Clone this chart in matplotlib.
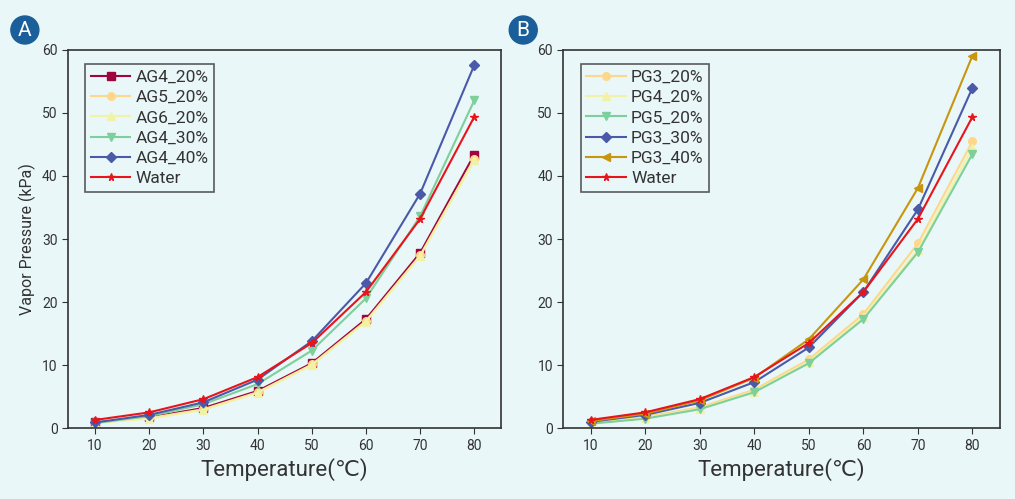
import matplotlib.pyplot as plt
from matplotlib.patches import Circle

temps = [10, 20, 30, 40, 50, 60, 70, 80]

ag4_20 = [0.9, 1.7, 3.2, 5.9, 10.3, 17.3, 27.8, 43.4]
ag5_20 = [0.9, 1.6, 3.0, 5.7, 10.1, 17.0, 27.4, 42.7]
ag6_20 = [0.8, 1.5, 2.9, 5.6, 10.0, 16.9, 27.3, 42.5]
ag4_30 = [0.8, 1.9, 3.8, 7.0, 12.3, 20.6, 33.6, 52.0]
ag4_40 = [0.9, 2.1, 4.1, 7.7, 13.8, 23.0, 37.2, 57.6]
water = [1.3, 2.5, 4.6, 8.1, 13.5, 21.6, 33.2, 49.4]

pg3_20 = [0.9, 1.8, 3.3, 6.1, 10.9, 18.1, 29.3, 45.5]
pg4_20 = [0.8, 1.6, 3.1, 5.8, 10.5, 17.6, 28.3, 44.5]
pg5_20 = [0.7, 1.5, 3.0, 5.7, 10.3, 17.3, 27.9, 43.5]
pg3_30 = [1.0, 2.1, 4.0, 7.3, 12.8, 21.6, 34.7, 54.0]
pg3_40 = [1.1, 2.3, 4.4, 8.0, 14.1, 23.6, 38.1, 59.1]

bg = '#eaf7f8'
plt.rcParams['font.family'] = ['Roboto', 'DejaVu Sans']

fig = plt.figure(figsize=(10.15, 4.99), dpi=100, facecolor=bg)
ax1 = fig.add_axes([0.067, 0.142, 0.427, 0.758])
ax2 = fig.add_axes([0.555, 0.142, 0.430, 0.758])

left_series = [
    ('AG4_20%', ag4_20, '#a0063e', 's'),
    ('AG5_20%', ag5_20, '#fed88a', 'o'),
    ('AG6_20%', ag6_20, '#f2f2a6', '^'),
    ('AG4_30%', ag4_30, '#7dcf9c', 'v'),
    ('AG4_40%', ag4_40, '#4a5aa8', 'D'),
    ('Water', water, '#e8141c', '*'),
]
right_series = [
    ('PG3_20%', pg3_20, '#fed88a', 'o'),
    ('PG4_20%', pg4_20, '#f2f2a6', '^'),
    ('PG5_20%', pg5_20, '#7dcf9c', 'v'),
    ('PG3_30%', pg3_30, '#4a5aa8', 'D'),
    ('PG3_40%', pg3_40, '#c8960e', '<'),
    ('Water', water, '#e8141c', '*'),
]

for ax, series in [(ax1, left_series), (ax2, right_series)]:
    ax.set_facecolor(bg)
    for name, vals, color, m in series:
        ax.plot(temps, vals, color=color, marker=m, markersize=5.5, lw=1.5, label=name)
    ax.set_xlim(5, 85)
    ax.set_ylim(0, 60)
    ax.set_xticks(temps)
    ax.set_yticks(range(0, 61, 10))
    ax.tick_params(labelsize=10, colors='#333333', length=4)
    for s in ax.spines.values():
        s.set_color('#333333')
        s.set_linewidth(1.2)
    ax.set_xlabel('Temperature(℃)', fontsize=16, color='#333333')
    leg = ax.legend(loc='upper left', bbox_to_anchor=(0.02, 0.985), fontsize=12.5,
                    frameon=True, fancybox=False, handlelength=2.3,
                    handletextpad=0.3, borderpad=0.3, labelspacing=0.3)
    leg.get_frame().set_edgecolor('#333333')
    leg.get_frame().set_facecolor(bg)
    leg.get_frame().set_linewidth(1.2)
    for t in leg.get_texts():
        t.set_color('#333333')

ax1.set_ylabel('Vapor Pressure (kPa)', fontsize=11.5, color='#333333')

for x, letter in [(0.0245, 'A'), (0.5155, 'B')]:
    fig.patches.append(Circle((x * 1015, 499 - 30), 14, transform=None,
                              color='#1b5f9a'))
    fig.text(x, 1 - 30 / 499, letter, color='white', fontsize=15,
             ha='center', va='center')

fig.savefig('out.png', dpi=100, facecolor=bg)
